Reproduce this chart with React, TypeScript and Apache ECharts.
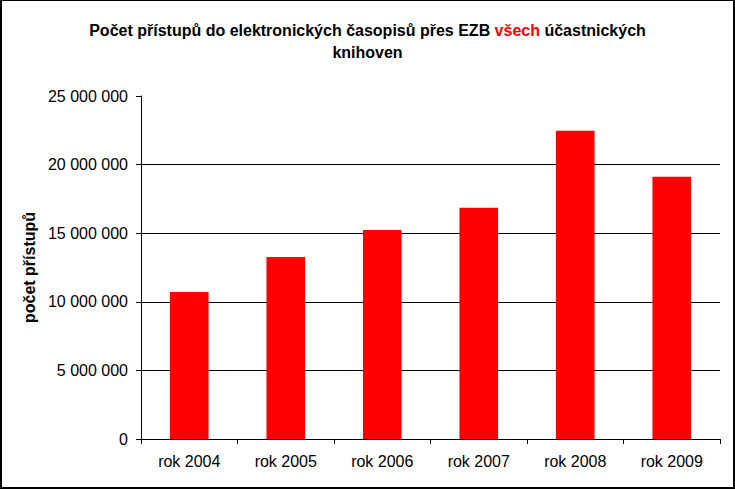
import React, { useEffect, useRef } from "react";
import * as echarts from "echarts";

const categories = ["rok 2004", "rok 2005", "rok 2006", "rok 2007", "rok 2008", "rok 2009"];
const accessCounts = [10710000, 13270000, 15240000, 16850000, 22460000, 19110000];
const yMax = 25000000;
const yInterval = 5000000;

const titleMain = "Počet přístupů do elektronických časopisů přes EZB ";
const titleRed = "všech";
const titleRest = " účastnických\nknihoven";
const yAxisName = "počet přístupů";

const FONT = "'Liberation Sans', Arial, sans-serif";

function formatThousands(v: number): string {
  return String(v).replace(/\B(?=(\d{3})+(?!\d))/g, " ");
}

export default function App() {
  const ref = useRef<HTMLDivElement>(null);

  useEffect(() => {
    document.body.style.margin = "0";
    if (!ref.current) return;
    const chart = echarts.init(ref.current, undefined, { renderer: "svg" });
    chart.setOption({
      animation: false,
      backgroundColor: "#ffffff",
      title: {
        text: `{b|${titleMain}}{r|${titleRed}}{b|${titleRest}}`,
        left: "center",
        top: 18,
        padding: 0,
        textStyle: {
          fontFamily: FONT,
          fontSize: 16,
          fontWeight: "bold",
          color: "#000",
          lineHeight: 22,
          rich: {
            b: { fontFamily: FONT, fontSize: 16, fontWeight: "bold", color: "#000", lineHeight: 22 },
            r: { fontFamily: FONT, fontSize: 16, fontWeight: "bold", color: "#ff0000", lineHeight: 22 },
          },
        },
      },
      grid: { left: 139, right: 13, top: 95, bottom: 48, containLabel: false },
      xAxis: {
        type: "category",
        data: categories,
        boundaryGap: true,
        axisLine: { show: true, lineStyle: { color: "#000", width: 1 } },
        axisTick: { show: true, length: 5, alignWithLabel: false, lineStyle: { color: "#000" } },
        axisLabel: { color: "#000", fontFamily: FONT, fontSize: 16, margin: 14 },
        splitLine: { show: false },
      },
      yAxis: {
        type: "value",
        min: 0,
        max: yMax,
        interval: yInterval,
        name: yAxisName,
        nameLocation: "middle",
        nameGap: 103,
        nameTextStyle: { color: "#000", fontFamily: FONT, fontSize: 16, fontWeight: "bold" },
        axisLine: { show: true, lineStyle: { color: "#000", width: 1 } },
        axisTick: { show: true, length: 5, lineStyle: { color: "#000" } },
        axisLabel: {
          color: "#000",
          fontFamily: FONT,
          fontSize: 16,
          margin: 13,
          formatter: (v: number) => formatThousands(v),
        },
        splitLine: { show: true, showMaxLine: false, lineStyle: { color: "#000", width: 1 } },
      },
      series: [
        {
          type: "bar",
          data: accessCounts,
          barWidth: "40%",
          itemStyle: { color: "#ff0000" },
        },
      ],
    });
    return () => chart.dispose();
  }, []);

  return (
    <div
      style={{
        width: 735,
        height: 489,
        boxSizing: "border-box",
        borderLeft: "2px solid #000",
        borderTop: "1px solid #000",
        borderRight: "2px solid #000",
        borderBottom: "2px solid #000",
        overflow: "hidden",
        background: "#fff",
      }}
    >
      <div ref={ref} style={{ width: 731, height: 486 }} />
    </div>
  );
}
